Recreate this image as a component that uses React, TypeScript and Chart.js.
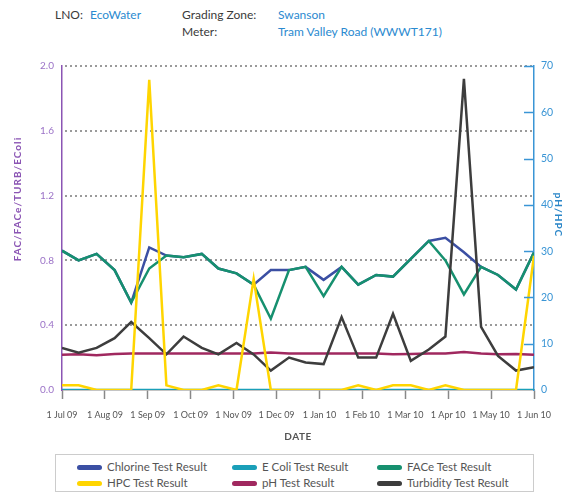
import React, { useEffect, useRef } from 'react';
import { Chart, registerables } from 'chart.js';

Chart.register(...registerables);

const FONT = 'Lato, "Noto Sans", sans-serif';

const monthLabels = ['1 Jul 09', '1 Aug 09', '1 Sep 09', '1 Oct 09', '1 Nov 09', '1 Dec 09', '1 Jan 10', '1 Feb 10', '1 Mar 10', '1 Apr 10', '1 May 10', '1 Jun 10'];

const sampleDates = [
  '2009-07-01', '2009-07-13', '2009-07-26', '2009-08-08', '2009-08-20', '2009-09-02', '2009-09-14',
  '2009-09-26', '2009-10-09', '2009-10-21', '2009-11-03', '2009-11-15', '2009-11-27', '2009-12-10',
  '2009-12-22', '2010-01-04', '2010-01-17', '2010-01-29', '2010-02-10', '2010-02-21', '2010-03-05',
  '2010-03-18', '2010-03-30', '2010-04-12', '2010-04-24', '2010-05-06', '2010-05-19', '2010-06-01',
];

const chlorine = [0.86, 0.80, 0.84, 0.74, 0.54, 0.88, 0.83, 0.82, 0.84, 0.75, 0.72, 0.65, 0.74, 0.74, 0.76, 0.68, 0.76, 0.65, 0.71, 0.70, 0.81, 0.92, 0.94, 0.85, 0.76, 0.71, 0.62, 0.85];
const eColi = [0, 0, 0, 0, 0, 0, 0, 0, 0, 0, 0, 0, 0, 0, 0, 0, 0, 0, 0, 0, 0, 0, 0, 0, 0, 0, 0, 0];
const face = [0.86, 0.80, 0.84, 0.74, 0.54, 0.75, 0.83, 0.82, 0.84, 0.75, 0.72, 0.65, 0.44, 0.74, 0.76, 0.58, 0.76, 0.65, 0.71, 0.70, 0.81, 0.92, 0.80, 0.59, 0.76, 0.71, 0.62, 0.85];
const hpc = [1, 1, 0, 0, 0, 67, 1, 0, 0, 1, 0, 24, 0, 0, 0, 0, 0, 1, 0, 1, 1, 0, 1, 0, 0, 0, 0, 29];
const ph = [7.6, 7.7, 7.5, 7.8, 7.9, 7.9, 7.9, 7.9, 7.9, 7.9, 7.9, 7.9, 8.1, 7.9, 7.9, 7.9, 7.9, 7.9, 7.9, 7.7, 7.8, 7.9, 7.9, 8.2, 7.9, 7.7, 7.8, 7.6];
const turbidity = [0.26, 0.23, 0.26, 0.32, 0.42, 0.32, 0.22, 0.33, 0.26, 0.22, 0.29, 0.22, 0.12, 0.20, 0.17, 0.16, 0.45, 0.20, 0.20, 0.47, 0.18, 0.25, 0.33, 1.92, 0.39, 0.21, 0.12, 0.14];

const leftTicks = [0, 0.4, 0.8, 1.2, 1.6, 2.0];
const rightTicks = [0, 10, 20, 30, 40, 50, 60, 70];

const seriesNames = ['Chlorine Test Result', 'E Coli Test Result', 'FACe Test Result', 'HPC Test Result', 'pH Test Result', 'Turbidity Test Result'];
const seriesColors = ['#3b4fa3', '#1a9fb8', '#16906f', '#ffd500', '#a0285f', '#3d3d3d'];
const seriesValues = [chlorine, eColi, face, hpc, ph, turbidity];
const seriesAxes = ['y', 'y', 'y', 'y1', 'y1', 'y'];
const seriesOrder = [6, 5, 4, 1, 3, 2];

function monthOffset(d: string): number {
  const [y, m, day] = d.split('-').map(Number);
  const dim = new Date(y, m, 0).getDate();
  return (y - 2009) * 12 + (m - 7) + (day - 1) / dim;
}

const PURPLE = '#8b55b4';
const BLUE = '#3a95d5';

function drawDottedGrid(chart: any) {
  const ctx = chart.ctx;
  const s = chart.scales.y;
  const area = chart.chartArea;
  ctx.save();
  ctx.fillStyle = '#9a9a9a';
  leftTicks.forEach((v) => {
    if (v === 0) return;
    const y = Math.round(s.getPixelForValue(v));
    for (let x = Math.round(area.left) + 3; x < area.right - 3; x += 5) {
      ctx.fillRect(x, y - 1, 2, 2);
    }
  });
  ctx.restore();
}

const gridPlugin = {
  id: 'dottedGrid',
  beforeDatasetsDraw(chart: any) {
    drawDottedGrid(chart);
  },
};

const extrasPlugin = {
  id: 'extras',
  afterDraw(chart: any) {
    const ctx = chart.ctx;
    const s = chart.scales.y1;
    const area = chart.chartArea;
    ctx.save();
    ctx.strokeStyle = BLUE;
    ctx.lineWidth = 1.5;
    rightTicks.forEach((v) => {
      if (v === 0) return;
      const y = Math.round(s.getPixelForValue(v)) + 0.5;
      ctx.beginPath();
      ctx.moveTo(area.right, y);
      ctx.lineTo(area.right - 10, y);
      ctx.stroke();
    });
    ctx.font = `bold 10px ${FONT}`;
    ctx.textAlign = 'center';
    ctx.textBaseline = 'middle';
    ctx.save();
    ctx.translate(18, 199);
    ctx.rotate(-Math.PI / 2);
    ctx.fillStyle = PURPLE;
    (ctx as any).letterSpacing = '1px';
    ctx.fillText('FAC/FACe/TURB/ECoIi', 0, 0);
    ctx.restore();
    ctx.save();
    ctx.translate(558, 215);
    ctx.rotate(Math.PI / 2);
    ctx.fillStyle = '#2a86c8';
    (ctx as any).letterSpacing = '1px';
    ctx.fillText('pH/HPC', 0, 0);
    ctx.restore();
    ctx.fillStyle = '#555';
    (ctx as any).letterSpacing = '0.5px';
    ctx.fillText('DATE', (area.left + area.right) / 2, 437);
    ctx.restore();
  },
};

export default function App() {
  const ref = useRef<HTMLCanvasElement | null>(null);

  useEffect(() => {
    if (!ref.current) return;
    const xs = sampleDates.map(monthOffset);
    const chart = new Chart(ref.current, {
      type: 'line',
      data: {
        datasets: seriesNames.map((name, i) => ({
          label: name,
          data: seriesValues[i].map((v, j) => ({ x: xs[j], y: v })),
          borderColor: seriesColors[i],
          backgroundColor: seriesColors[i],
          borderWidth: 2.5,
          pointRadius: 0,
          tension: 0,
          yAxisID: seriesAxes[i],
          order: seriesOrder[i],
        })),
      },
      options: {
        animation: false,
        responsive: false,
        devicePixelRatio: 1,
        layout: { padding: { top: 66, left: 0, right: 0, bottom: 0 } },
        plugins: { legend: { display: false }, tooltip: { enabled: false } },
        scales: {
          x: {
            type: 'linear',
            min: 0,
            max: monthLabels.length - 1,
            afterBuildTicks: (sc: any) => {
              sc.ticks = monthLabels.map((_, i) => ({ value: i }));
            },
            afterFit: (sc: any) => {
              sc.height = 60;
            },
            ticks: {
              autoSkip: false,
              maxRotation: 0,
              minRotation: 0,
              padding: 11,
              color: '#555',
              font: { family: FONT, size: 9 },
              callback: (v: any) => monthLabels[Math.round(v)],
            },
            grid: { drawOnChartArea: false, drawTicks: true, tickLength: 9, tickColor: '#888', tickWidth: 1.5 },
            border: { color: '#8a8a8a', width: 1.5 },
          },
          y: {
            position: 'left',
            min: 0,
            max: 2,
            afterBuildTicks: (sc: any) => {
              sc.ticks = leftTicks.map((v) => ({ value: v }));
            },
            afterFit: (sc: any) => {
              sc.width = 62;
            },
            ticks: {
              padding: 8,
              color: '#9b72c7',
              font: { family: FONT, size: 10 },
              callback: (v: any) => Number(v).toFixed(1),
            },
            grid: { drawOnChartArea: false, drawTicks: false },
            border: { color: PURPLE, width: 1.5 },
          },
          y1: {
            position: 'right',
            min: 0,
            max: 70,
            afterBuildTicks: (sc: any) => {
              sc.ticks = rightTicks.map((v) => ({ value: v }));
            },
            afterFit: (sc: any) => {
              sc.width = 34;
            },
            ticks: {
              padding: 7,
              color: BLUE,
              font: { family: FONT, size: 10.5 },
            },
            grid: { drawOnChartArea: false, drawTicks: false },
            border: { color: BLUE, width: 1.5 },
          },
        },
      },
      plugins: [gridPlugin, extrasPlugin],
    } as any);
    return () => chart.destroy();
  }, []);

  const headerLabel: React.CSSProperties = { position: 'absolute', color: '#3a3a3a', fontSize: 12, lineHeight: '16px', whiteSpace: 'nowrap' };
  const headerValue: React.CSSProperties = { ...headerLabel, color: '#2b8ad0' };
  const legendCols = [77, 232, 377];
  const legendRows = [467, 483];

  return (
    <div style={{ position: 'absolute', left: 0, top: 0, width: 568, height: 493, fontFamily: FONT, background: '#fff' }}>
      <div style={{ ...headerLabel, left: 55, top: 7 }}>LNO:</div>
      <div style={{ ...headerValue, left: 90, top: 7 }}>EcoWater</div>
      <div style={{ ...headerLabel, left: 182, top: 7 }}>Grading Zone:</div>
      <div style={{ ...headerValue, left: 278, top: 7 }}>Swanson</div>
      <div style={{ ...headerLabel, left: 182, top: 24 }}>Meter:</div>
      <div style={{ ...headerValue, left: 278, top: 24 }}>Tram Valley Road (WWWT171)</div>
      <canvas ref={ref} width={568} height={450} style={{ position: 'absolute', left: 0, top: 0, width: 568, height: 450 }} />
      <div style={{ position: 'absolute', left: 55, top: 454, width: 477, height: 36, border: '1px solid #cccccc' }} />
      {seriesNames.map((name, i) => {
        const col = i % 3;
        const row = Math.floor(i / 3);
        return (
          <div key={name} style={{ position: 'absolute', left: legendCols[col], top: legendRows[row] - 8, height: 16, display: 'flex', alignItems: 'center', whiteSpace: 'nowrap' }}>
            <span style={{ display: 'inline-block', width: 25, height: 5, borderRadius: 3, background: seriesColors[i], marginRight: 5 }} />
            <span style={{ fontSize: 11.5, color: '#555', lineHeight: '16px' }}>{name}</span>
          </div>
        );
      })}
    </div>
  );
}
